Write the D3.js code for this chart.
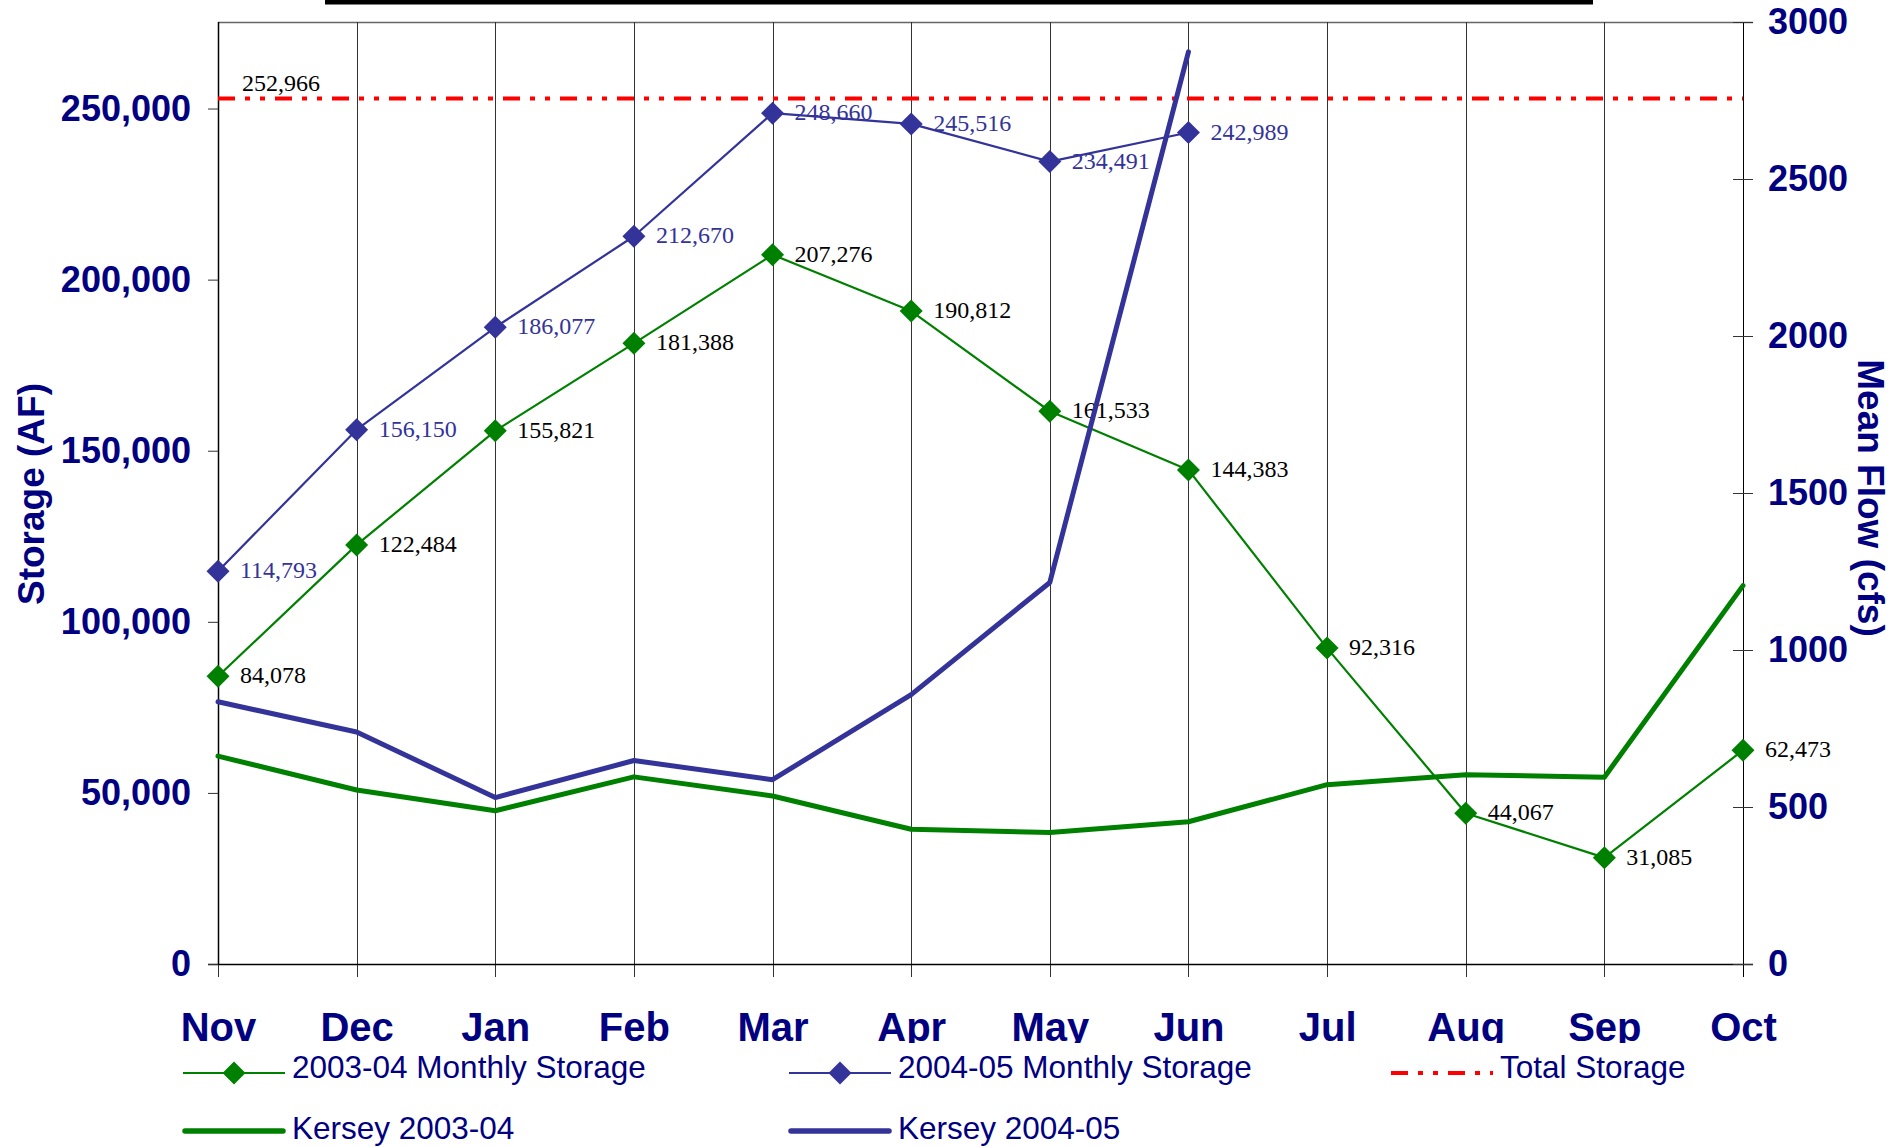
<!DOCTYPE html>
<html><head><meta charset="utf-8">
<script src="https://cdn.jsdelivr.net/npm/d3@7"></script>
<style>
html,body{margin:0;padding:0;background:#fff;}
svg{display:block;}
</style></head><body>
<svg id="c" width="1890" height="1147"></svg>
<script>
// ---- data ----
const months = ["Nov","Dec","Jan","Feb","Mar","Apr","May","Jun","Jul","Aug","Sep","Oct"];
const storage0304 = [84078,122484,155821,181388,207276,190812,161533,144383,92316,44067,31085,62473];
const storage0405 = [114793,156150,186077,212670,248660,245516,234491,242989];
const totalStorage = 252966;
const kersey0304 = [662,554,488,596,535,429,419,453,571,603,595,1205];
const kersey0405 = [835,739,530,648,587,858,1215,2905];
const storageTicks = [0,50000,100000,150000,200000,250000];
const flowTicks = [0,500,1000,1500,2000,2500,3000];
const legendLabels = ["2003-04 Monthly Storage","2004-05 Monthly Storage","Total Storage","Kersey 2003-04","Kersey 2004-05"];

// ---- layout ----
const W = 1890, H = 1147;
const L = 218, R = 1743, T = 22, B = 964;
const GREEN = "#008000", BLUE = "#333399", RED = "#FF0000", NAVY = "#000080";
const SANS = "'Liberation Sans', Arial, sans-serif";
const SERIF = "'Liberation Serif', 'Times New Roman', serif";

const svg = d3.select("#c");
const x = d3.scalePoint().domain(months).range([L, R]).padding(0);
const y = d3.scaleLinear().domain([0, 275000]).range([B, T + 1]);
const y2 = d3.scaleLinear().domain([0, 3000]).range([B, T]);

// top black bar
svg.append("rect").attr("x", 325).attr("y", 0).attr("width", 1268).attr("height", 4.5).attr("fill", "#000");

// top border
svg.append("line").attr("x1", L).attr("x2", R + 10).attr("y1", T + 0.5).attr("y2", T + 0.5)
  .attr("stroke", "#666").attr("stroke-width", 1.5);

// vertical gridlines
svg.append("g").selectAll("line").data(months).join("line")
  .attr("x1", d => Math.round(x(d)) + 0.5).attr("x2", d => Math.round(x(d)) + 0.5)
  .attr("y1", T).attr("y2", B + 13)
  .attr("stroke", "#333").attr("stroke-width", 1).attr("shape-rendering", "crispEdges");

// x axis (month labels clipped at their baseline, as in the reference)
const defs = svg.append("defs");
defs.append("clipPath").attr("id", "xclip")
  .append("rect").attr("x", -50).attr("y", -20).attr("width", W + 100).attr("height", 20 + 79);

const gx = svg.append("g").attr("transform", `translate(0,${B})`)
  .attr("clip-path", "url(#xclip)")
  .call(d3.axisBottom(x).tickSize(13).tickSizeOuter(0));
gx.select(".domain").attr("stroke", "#000").attr("stroke-width", 1.5)
  .attr("d", `M${L - 10},0.5H${R + 10}`);
gx.selectAll(".tick line").remove();
gx.selectAll(".tick text")
  .attr("y", 77).attr("dy", 0)
  .attr("text-anchor", "middle")
  .style("font-family", SANS).style("font-weight", "bold").style("font-size", "40px")
  .attr("fill", NAVY);

// left axis
const gy = svg.append("g").attr("transform", `translate(${L},0)`)
  .call(d3.axisLeft(y).tickValues(storageTicks).tickFormat(d3.format(",")).tickSize(10).tickPadding(17));
gy.select(".domain").attr("stroke", "#000").attr("stroke-width", 1.5).attr("d", `M0.5,${T}V${B}`);
gy.selectAll(".tick line").attr("stroke", "#333");
gy.selectAll(".tick text")
  .style("font-family", SANS).style("font-weight", "bold").style("font-size", "36px").attr("fill", NAVY);

// right axis
const gy2 = svg.append("g").attr("transform", `translate(${R},0)`)
  .call(d3.axisRight(y2).tickValues(flowTicks).tickFormat(d3.format("d")).tickSize(10).tickPadding(15));
gy2.select(".domain").attr("stroke", "#000").attr("stroke-width", 1).attr("d", `M0.5,${T}V${B + 13}`);
gy2.selectAll(".tick line").attr("x1", -10).attr("x2", 10).attr("stroke", "#333");
gy2.selectAll(".tick text")
  .style("font-family", SANS).style("font-weight", "bold").style("font-size", "36px").attr("fill", NAVY);

// axis titles
svg.append("text").attr("transform", "translate(44,494) rotate(-90)")
  .attr("text-anchor", "middle")
  .style("font-family", SANS).style("font-weight", "bold").style("font-size", "37px").attr("fill", NAVY)
  .text("Storage (AF)");
svg.append("text").attr("transform", "translate(1858,498) rotate(90)")
  .attr("text-anchor", "middle")
  .style("font-family", SANS).style("font-weight", "bold").style("font-size", "37px").attr("fill", NAVY)
  .text("Mean Flow (cfs)");

const fmt = d3.format(",");
const diamond = (cx, cy, r) => `M${cx},${cy - r}L${cx + r},${cy}L${cx},${cy + r}L${cx - r},${cy}Z`;

// data labels
function labels(vals, color) {
  svg.append("g").selectAll("text").data(vals).join("text")
    .attr("x", (d, i) => x(months[i]) + 22)
    .attr("y", d => y(d) - 1)
    .attr("dominant-baseline", "central")
    .style("font-family", SERIF).style("font-size", "24px").attr("fill", color)
    .text(d => fmt(d));
}
labels(storage0304, "#000");
labels(storage0405, BLUE);
svg.append("text").attr("x", x(months[0]) + 24).attr("y", y(totalStorage) - 7)
  .style("font-family", SERIF).style("font-size", "24px").attr("fill", "#000")
  .text(fmt(totalStorage));

// storage lines
const lineS = d3.line().x((d, i) => x(months[i])).y(d => y(d));
function storageSeries(vals, color) {
  svg.append("path").datum(vals).attr("d", lineS).attr("fill", "none")
    .attr("stroke", color).attr("stroke-width", 2.2).attr("stroke-linejoin", "round");
  svg.append("g").selectAll("path").data(vals).join("path")
    .attr("d", (d, i) => diamond(x(months[i]), y(d), 11.5)).attr("fill", color);
}
storageSeries(storage0304, GREEN);
storageSeries(storage0405, BLUE);

// total storage line
svg.append("line").attr("x1", L).attr("x2", R).attr("y1", y(totalStorage)).attr("y2", y(totalStorage))
  .attr("stroke", RED).attr("stroke-width", 4).attr("stroke-dasharray", "17,10,5,10,5,10");

// Kersey flow lines
const lineF = d3.line().x((d, i) => x(months[i])).y(d => y2(d));
function flowSeries(vals, color) {
  svg.append("path").datum(vals).attr("d", lineF).attr("fill", "none")
    .attr("stroke", color).attr("stroke-width", 5).attr("stroke-linejoin", "round").attr("stroke-linecap", "round");
}
flowSeries(kersey0304, GREEN);
flowSeries(kersey0405, BLUE);

// legend
const legendPos = [
  {x: 183, y: 1073, type: "marker", color: GREEN},
  {x: 789, y: 1073, type: "marker", color: BLUE},
  {x: 1391, y: 1073, type: "dash", color: RED},
  {x: 183, y: 1131, type: "thick", color: GREEN},
  {x: 789, y: 1131, type: "thick", color: BLUE}
];
const lg = svg.append("g");
legendLabels.forEach((name, i) => {
  const p = legendPos[i];
  const g = lg.append("g");
  if (p.type === "marker") {
    g.append("line").attr("x1", p.x).attr("x2", p.x + 102).attr("y1", p.y).attr("y2", p.y)
      .attr("stroke", p.color).attr("stroke-width", 2.2);
    g.append("path").attr("d", diamond(p.x + 51, p.y, 11.5)).attr("fill", p.color);
  } else if (p.type === "dash") {
    g.append("line").attr("x1", p.x).attr("x2", p.x + 102).attr("y1", p.y).attr("y2", p.y)
      .attr("stroke", p.color).attr("stroke-width", 4).attr("stroke-dasharray", "17,10,5,10,5,10");
  } else {
    g.append("line").attr("x1", p.x + 2).attr("x2", p.x + 100).attr("y1", p.y).attr("y2", p.y)
      .attr("stroke", p.color).attr("stroke-width", 5.5).attr("stroke-linecap", "round");
  }
  g.append("text").attr("x", p.x + 109).attr("y", p.y + (i >= 3 ? 8 : 5))
    .style("font-family", SANS).style("font-size", "31.5px").attr("fill", NAVY)
    .text(name);
});
</script>
</body></html>
